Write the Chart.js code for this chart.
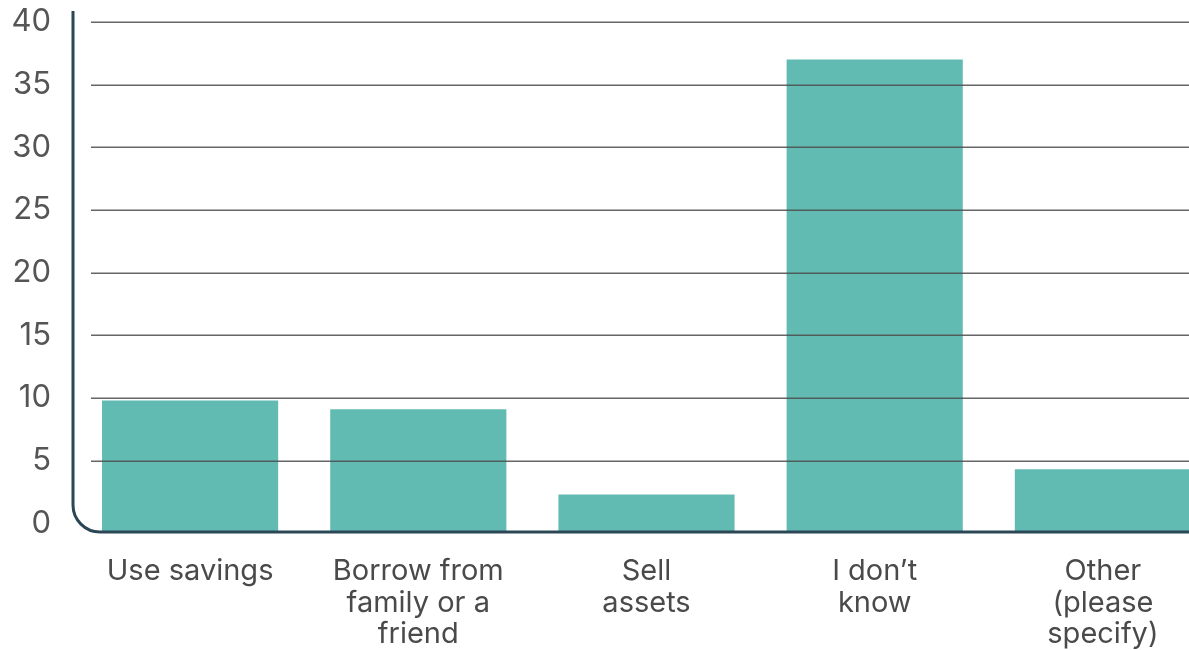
<!DOCTYPE html>
<html>
<head>
<meta charset="utf-8">
<script src="https://cdn.jsdelivr.net/npm/chart.js@4"></script>
<style>
  html, body { margin: 0; padding: 0; overflow: hidden; background: #fff; }
</style>
</head>
<body>
<canvas id="grafico" width="1217" height="650"></canvas>
<script>
// data
const categorias = ['Use savings', ['Borrow from', 'family or a', 'friend'], ['Sell', 'assets'], ['I don’t', 'know'], ['Other', '(please', 'specify)']]
const valores = [9.8, 9.1, 2.3, 37, 4.3]
const ticksY = [0, 5, 10, 15, 20, 25, 30, 35, 40]

const BASE = -0.7   // bars reach down to the axis line, a bit under zero

// grid lines over the bars + left/bottom axis with rounded corner
const ejes = {
  id: 'ejes',
  afterDatasetsDraw(chart) {
    const ctx = chart.ctx
    const area = chart.chartArea
    const y = chart.scales.y
    ctx.save()
    ctx.strokeStyle = 'rgba(75,75,75,0.85)'
    ctx.lineWidth = 1.5
    ticksY.forEach(v => {
      if (v <= 0) return
      const py = Math.round(y.getPixelForValue(v)) + 0.25
      ctx.beginPath()
      ctx.moveTo(area.left + 15, py)
      ctx.lineTo(chart.width, py)
      ctx.stroke()
    })
    const x0 = area.left - 3
    const yb = area.bottom
    const r = 27
    ctx.strokeStyle = '#2b4755'
    ctx.lineWidth = 3
    ctx.beginPath()
    ctx.moveTo(x0, y.getPixelForValue(40) - 11)
    ctx.lineTo(x0, yb - r)
    ctx.arcTo(x0, yb, x0 + r, yb, r)
    ctx.lineTo(chart.width, yb)
    ctx.stroke()
    ctx.restore()
  }
}

let grafico = document.getElementById('grafico').getContext('2d')

new Chart(grafico, {
  type: 'bar',
  data: {
    labels: categorias,
    datasets: [{
      data: valores,
      base: BASE,
      backgroundColor: '#62bbb2',
      borderWidth: 0,
      barPercentage: 0.772,
      categoryPercentage: 1
    }]
  },
  options: {
    responsive: false,
    animation: false,
    layout: { padding: { top: 22, left: 0, right: 0, bottom: 0 } },
    plugins: {
      legend: { display: false },
      tooltip: { enabled: false }
    },
    scales: {
      x: {
        grid: { display: false, drawTicks: false },
        border: { display: false },
        ticks: {
          padding: 23,
          maxRotation: 0,
          autoSkip: false,
          color: '#4a4a4a',
          font: { family: 'Inter', size: 29, lineHeight: 1.1 }
        },
        afterFit: s => { s.height = 118 }
      },
      y: {
        min: BASE,
        max: 40,
        grid: { display: false, drawTicks: false },
        border: { display: false },
        ticks: {
          padding: 25,
          color: '#555',
          font: { family: 'Inter', size: 31 }
        },
        afterBuildTicks: s => { s.ticks = ticksY.map(v => ({ value: v })) },
        afterFit: s => {
          s.width = 76
          s.paddingTop = 0
          s.paddingBottom = 0
        }
      }
    }
  },
  plugins: [ejes]
})
</script>
</body>
</html>
